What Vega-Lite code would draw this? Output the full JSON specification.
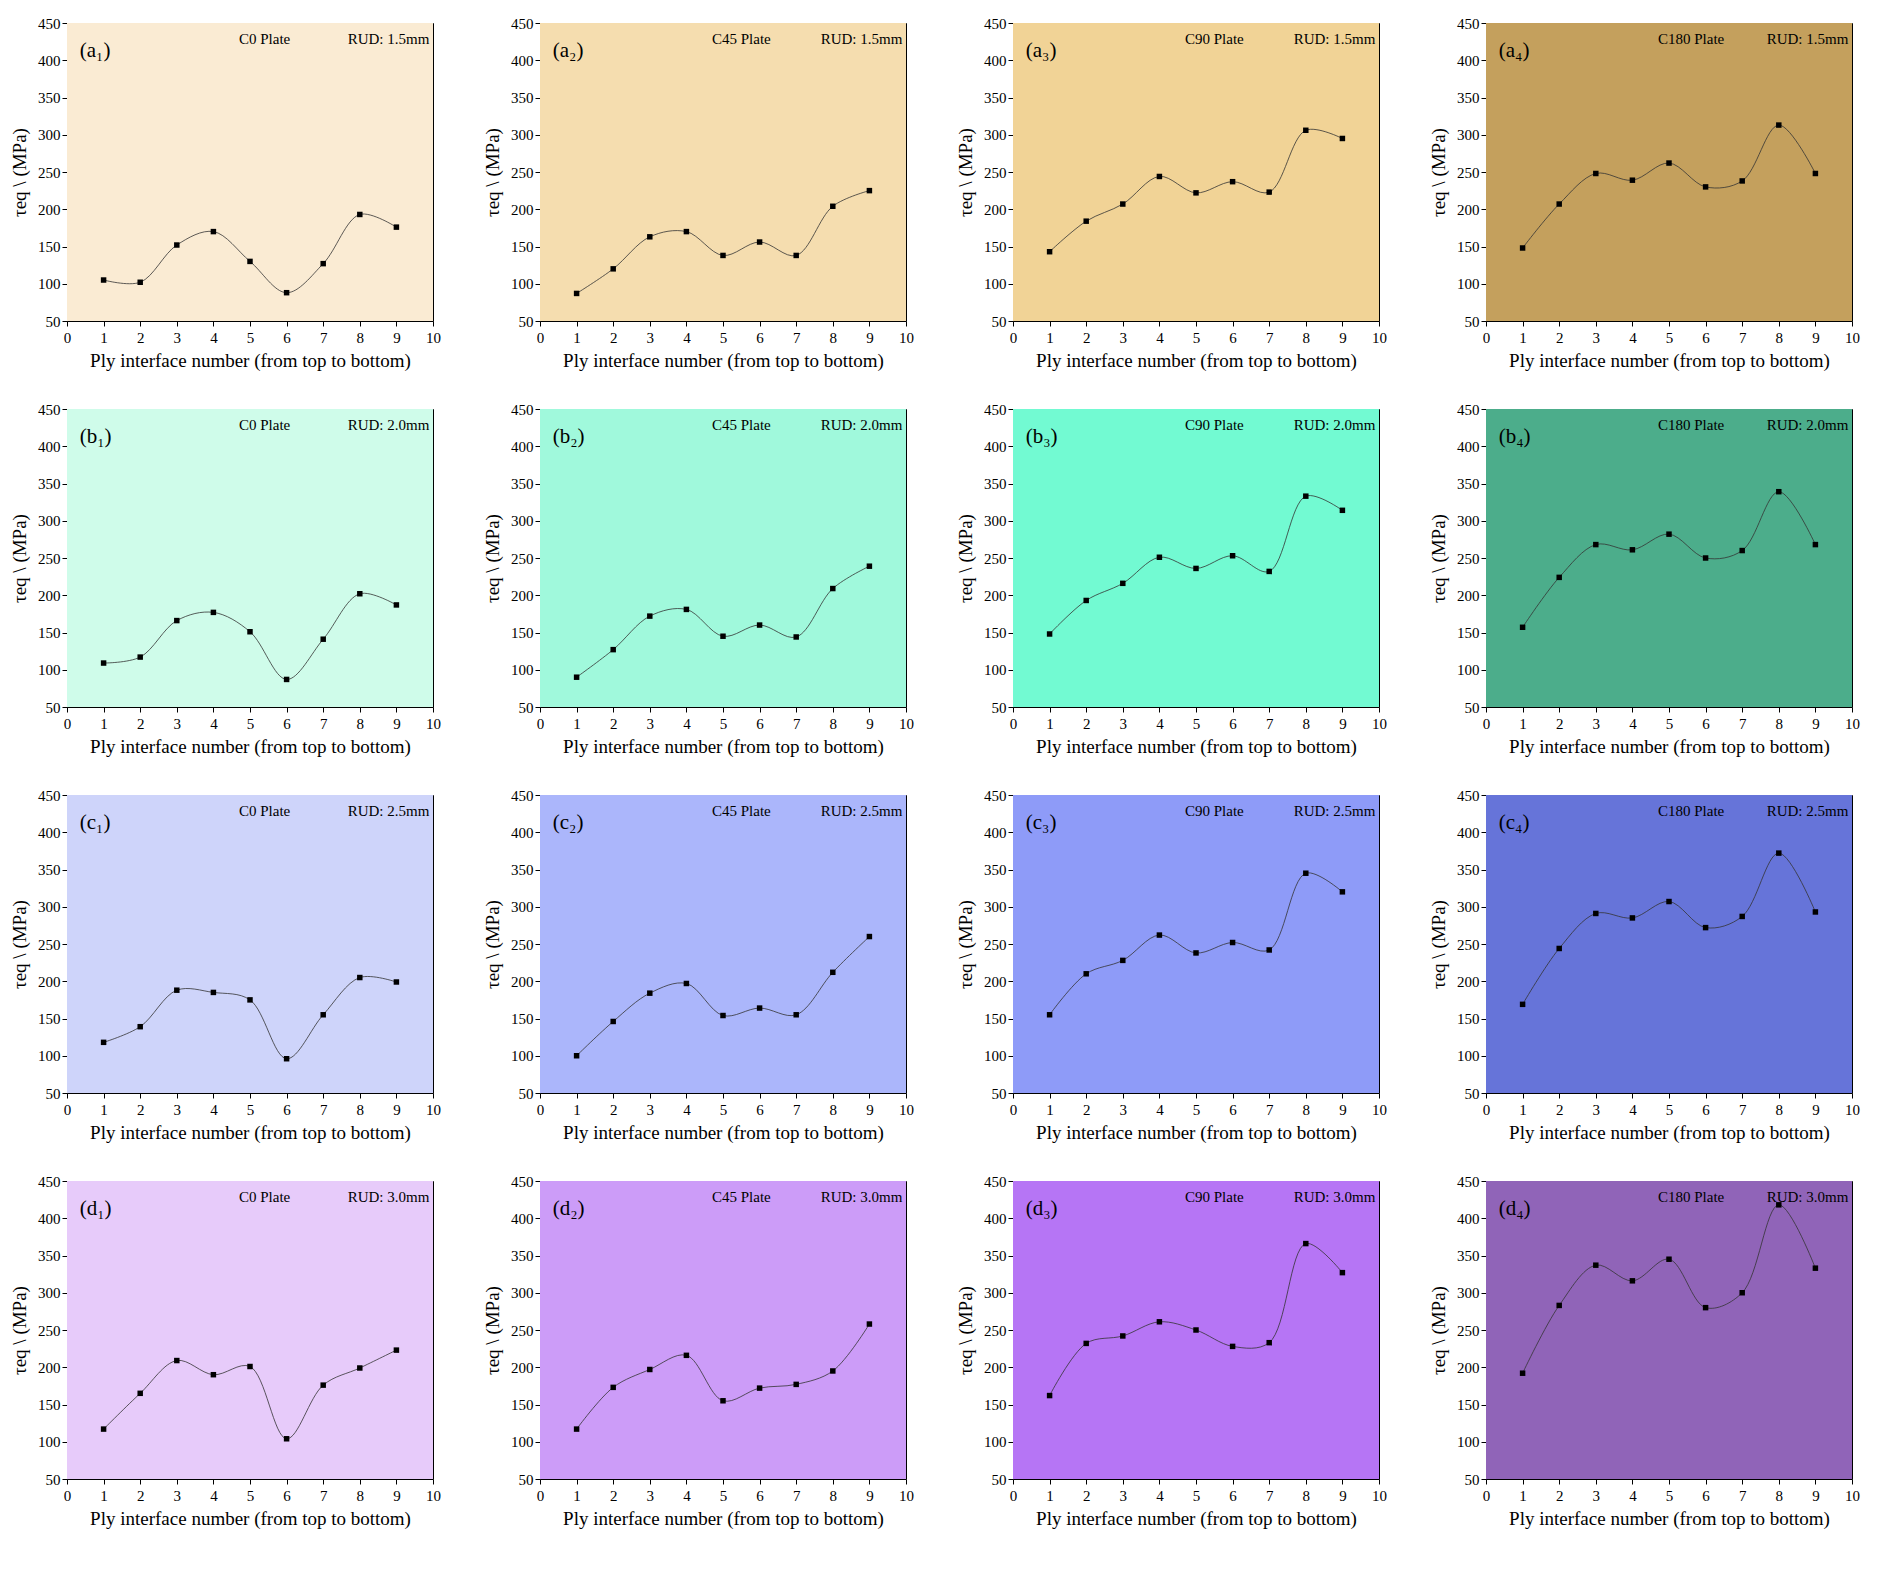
{
"$schema":"https://vega.github.io/schema/vega-lite/v6.json",
"background":"white",
"padding":{"left":10,"top":15,"right":5,"bottom":5},
"config":{"font":"Liberation Serif","view":{"stroke":"black","strokeWidth":1},"axis":{"grid":false,"domain":false,"tickColor":"black","labelColor":"black","labelFontSize":15,"titleFontSize":19,"titleFontWeight":"normal","titleColor":"black","labelFont":"Liberation Serif","titleFont":"Liberation Serif","labelOverlap":false,"labelFlush":false},"axisX":{"titlePadding":6,"labelPadding":4},"axisY":{"titlePadding":8}},
"data":{"values":[
{"r":"a","c":1,"x":1,"y":105},{"r":"a","c":1,"x":2,"y":102},{"r":"a","c":1,"x":3,"y":152},{"r":"a","c":1,"x":4,"y":170},{"r":"a","c":1,"x":5,"y":130},{"r":"a","c":1,"x":6,"y":88},{"r":"a","c":1,"x":7,"y":127},{"r":"a","c":1,"x":8,"y":193},{"r":"a","c":1,"x":9,"y":176},
{"r":"a","c":2,"x":1,"y":87},{"r":"a","c":2,"x":2,"y":120},{"r":"a","c":2,"x":3,"y":163},{"r":"a","c":2,"x":4,"y":170},{"r":"a","c":2,"x":5,"y":138},{"r":"a","c":2,"x":6,"y":156},{"r":"a","c":2,"x":7,"y":138},{"r":"a","c":2,"x":8,"y":204},{"r":"a","c":2,"x":9,"y":225},
{"r":"a","c":3,"x":1,"y":143},{"r":"a","c":3,"x":2,"y":184},{"r":"a","c":3,"x":3,"y":207},{"r":"a","c":3,"x":4,"y":244},{"r":"a","c":3,"x":5,"y":222},{"r":"a","c":3,"x":6,"y":237},{"r":"a","c":3,"x":7,"y":223},{"r":"a","c":3,"x":8,"y":306},{"r":"a","c":3,"x":9,"y":295},
{"r":"a","c":4,"x":1,"y":148},{"r":"a","c":4,"x":2,"y":207},{"r":"a","c":4,"x":3,"y":248},{"r":"a","c":4,"x":4,"y":239},{"r":"a","c":4,"x":5,"y":262},{"r":"a","c":4,"x":6,"y":230},{"r":"a","c":4,"x":7,"y":238},{"r":"a","c":4,"x":8,"y":313},{"r":"a","c":4,"x":9,"y":248},
{"r":"b","c":1,"x":1,"y":109},{"r":"b","c":1,"x":2,"y":117},{"r":"b","c":1,"x":3,"y":166},{"r":"b","c":1,"x":4,"y":177},{"r":"b","c":1,"x":5,"y":151},{"r":"b","c":1,"x":6,"y":87},{"r":"b","c":1,"x":7,"y":141},{"r":"b","c":1,"x":8,"y":202},{"r":"b","c":1,"x":9,"y":187},
{"r":"b","c":2,"x":1,"y":90},{"r":"b","c":2,"x":2,"y":127},{"r":"b","c":2,"x":3,"y":172},{"r":"b","c":2,"x":4,"y":181},{"r":"b","c":2,"x":5,"y":145},{"r":"b","c":2,"x":6,"y":160},{"r":"b","c":2,"x":7,"y":144},{"r":"b","c":2,"x":8,"y":209},{"r":"b","c":2,"x":9,"y":239},
{"r":"b","c":3,"x":1,"y":148},{"r":"b","c":3,"x":2,"y":193},{"r":"b","c":3,"x":3,"y":216},{"r":"b","c":3,"x":4,"y":251},{"r":"b","c":3,"x":5,"y":236},{"r":"b","c":3,"x":6,"y":253},{"r":"b","c":3,"x":7,"y":232},{"r":"b","c":3,"x":8,"y":333},{"r":"b","c":3,"x":9,"y":314},
{"r":"b","c":4,"x":1,"y":157},{"r":"b","c":4,"x":2,"y":224},{"r":"b","c":4,"x":3,"y":268},{"r":"b","c":4,"x":4,"y":261},{"r":"b","c":4,"x":5,"y":282},{"r":"b","c":4,"x":6,"y":250},{"r":"b","c":4,"x":7,"y":260},{"r":"b","c":4,"x":8,"y":339},{"r":"b","c":4,"x":9,"y":268},
{"r":"c","c":1,"x":1,"y":118},{"r":"c","c":1,"x":2,"y":139},{"r":"c","c":1,"x":3,"y":188},{"r":"c","c":1,"x":4,"y":185},{"r":"c","c":1,"x":5,"y":175},{"r":"c","c":1,"x":6,"y":96},{"r":"c","c":1,"x":7,"y":155},{"r":"c","c":1,"x":8,"y":205},{"r":"c","c":1,"x":9,"y":199},
{"r":"c","c":2,"x":1,"y":100},{"r":"c","c":2,"x":2,"y":146},{"r":"c","c":2,"x":3,"y":184},{"r":"c","c":2,"x":4,"y":197},{"r":"c","c":2,"x":5,"y":154},{"r":"c","c":2,"x":6,"y":164},{"r":"c","c":2,"x":7,"y":155},{"r":"c","c":2,"x":8,"y":212},{"r":"c","c":2,"x":9,"y":260},
{"r":"c","c":3,"x":1,"y":155},{"r":"c","c":3,"x":2,"y":210},{"r":"c","c":3,"x":3,"y":228},{"r":"c","c":3,"x":4,"y":262},{"r":"c","c":3,"x":5,"y":238},{"r":"c","c":3,"x":6,"y":252},{"r":"c","c":3,"x":7,"y":242},{"r":"c","c":3,"x":8,"y":345},{"r":"c","c":3,"x":9,"y":320},
{"r":"c","c":4,"x":1,"y":169},{"r":"c","c":4,"x":2,"y":244},{"r":"c","c":4,"x":3,"y":291},{"r":"c","c":4,"x":4,"y":285},{"r":"c","c":4,"x":5,"y":307},{"r":"c","c":4,"x":6,"y":272},{"r":"c","c":4,"x":7,"y":287},{"r":"c","c":4,"x":8,"y":372},{"r":"c","c":4,"x":9,"y":293},
{"r":"d","c":1,"x":1,"y":117},{"r":"d","c":1,"x":2,"y":165},{"r":"d","c":1,"x":3,"y":209},{"r":"d","c":1,"x":4,"y":190},{"r":"d","c":1,"x":5,"y":201},{"r":"d","c":1,"x":6,"y":104},{"r":"d","c":1,"x":7,"y":176},{"r":"d","c":1,"x":8,"y":199},{"r":"d","c":1,"x":9,"y":223},
{"r":"d","c":2,"x":1,"y":117},{"r":"d","c":2,"x":2,"y":173},{"r":"d","c":2,"x":3,"y":197},{"r":"d","c":2,"x":4,"y":216},{"r":"d","c":2,"x":5,"y":155},{"r":"d","c":2,"x":6,"y":172},{"r":"d","c":2,"x":7,"y":177},{"r":"d","c":2,"x":8,"y":195},{"r":"d","c":2,"x":9,"y":258},
{"r":"d","c":3,"x":1,"y":162},{"r":"d","c":3,"x":2,"y":232},{"r":"d","c":3,"x":3,"y":242},{"r":"d","c":3,"x":4,"y":261},{"r":"d","c":3,"x":5,"y":250},{"r":"d","c":3,"x":6,"y":228},{"r":"d","c":3,"x":7,"y":233},{"r":"d","c":3,"x":8,"y":366},{"r":"d","c":3,"x":9,"y":327},
{"r":"d","c":4,"x":1,"y":192},{"r":"d","c":4,"x":2,"y":283},{"r":"d","c":4,"x":3,"y":337},{"r":"d","c":4,"x":4,"y":316},{"r":"d","c":4,"x":5,"y":345},{"r":"d","c":4,"x":6,"y":280},{"r":"d","c":4,"x":7,"y":300},{"r":"d","c":4,"x":8,"y":418},{"r":"d","c":4,"x":9,"y":333},
{"r":"a","c":1,"p":"a1","lab":"(a₁)","plate":"C0 Plate","rud":"RUD: 1.5mm"},
{"r":"a","c":2,"p":"a2","lab":"(a₂)","plate":"C45 Plate","rud":"RUD: 1.5mm"},
{"r":"a","c":3,"p":"a3","lab":"(a₃)","plate":"C90 Plate","rud":"RUD: 1.5mm"},
{"r":"a","c":4,"p":"a4","lab":"(a₄)","plate":"C180 Plate","rud":"RUD: 1.5mm"},
{"r":"b","c":1,"p":"b1","lab":"(b₁)","plate":"C0 Plate","rud":"RUD: 2.0mm"},
{"r":"b","c":2,"p":"b2","lab":"(b₂)","plate":"C45 Plate","rud":"RUD: 2.0mm"},
{"r":"b","c":3,"p":"b3","lab":"(b₃)","plate":"C90 Plate","rud":"RUD: 2.0mm"},
{"r":"b","c":4,"p":"b4","lab":"(b₄)","plate":"C180 Plate","rud":"RUD: 2.0mm"},
{"r":"c","c":1,"p":"c1","lab":"(c₁)","plate":"C0 Plate","rud":"RUD: 2.5mm"},
{"r":"c","c":2,"p":"c2","lab":"(c₂)","plate":"C45 Plate","rud":"RUD: 2.5mm"},
{"r":"c","c":3,"p":"c3","lab":"(c₃)","plate":"C90 Plate","rud":"RUD: 2.5mm"},
{"r":"c","c":4,"p":"c4","lab":"(c₄)","plate":"C180 Plate","rud":"RUD: 2.5mm"},
{"r":"d","c":1,"p":"d1","lab":"(d₁)","plate":"C0 Plate","rud":"RUD: 3.0mm"},
{"r":"d","c":2,"p":"d2","lab":"(d₂)","plate":"C45 Plate","rud":"RUD: 3.0mm"},
{"r":"d","c":3,"p":"d3","lab":"(d₃)","plate":"C90 Plate","rud":"RUD: 3.0mm"},
{"r":"d","c":4,"p":"d4","lab":"(d₄)","plate":"C180 Plate","rud":"RUD: 3.0mm"}
]},
"facet":{"row":{"field":"r","title":null,"header":{"labels":false}},"column":{"field":"c","title":null,"header":{"labels":false}}},
"spacing":{"row":30,"column":42},
"resolve":{"axis":{"x":"independent","y":"independent"}},
"spec":{
"width":366,"height":298,
"layer":[
{"transform":[{"filter":"isValid(datum.p)"}],"mark":{"type":"rect"},
 "encoding":{"x":{"datum":0,"type":"quantitative","scale":{"domain":[0,10],"nice":false},"axis":{"values":[0,1,2,3,4,5,6,7,8,9,10],"title":"Ply interface number (from top to bottom)"}},"x2":{"datum":10},
  "y":{"datum":50,"type":"quantitative","scale":{"domain":[50,450],"nice":false},"axis":{"values":[50,100,150,200,250,300,350,400,450],"title":"τeq \\ (MPa)"}},"y2":{"datum":450},
  "color":{"field":"p","type":"nominal","legend":null,"scale":{"domain":["a1","a2","a3","a4","b1","b2","b3","b4","c1","c2","c3","c4","d1","d2","d3","d4"],"range":["#FAEBD3","#F5DDAF","#F1D396","#C4A05D","#CFFCEA","#A0F9DC","#72FAD2","#4CAD8B","#CED4FA","#ABB6FB","#8E9BF8","#6674D9","#E7CBFA","#CC9CF8","#B675F5","#9064B8"]}}}},
{"transform":[{"filter":"isValid(datum.x)"}],"mark":{"type":"line","interpolate":"catmull-rom","color":"#333","strokeWidth":0.8},
 "encoding":{"x":{"field":"x","type":"quantitative","axis":{"values":[0,1,2,3,4,5,6,7,8,9,10],"title":"Ply interface number (from top to bottom)"}},"y":{"field":"y","type":"quantitative","axis":{"values":[50,100,150,200,250,300,350,400,450],"title":"τeq \\ (MPa)"}}}},
{"transform":[{"filter":"isValid(datum.x)"}],"mark":{"type":"square","color":"black","opacity":1,"size":30,"filled":true},
 "encoding":{"x":{"field":"x","type":"quantitative","axis":{"values":[0,1,2,3,4,5,6,7,8,9,10],"title":"Ply interface number (from top to bottom)"}},"y":{"field":"y","type":"quantitative","axis":{"values":[50,100,150,200,250,300,350,400,450],"title":"τeq \\ (MPa)"}}}},
{"transform":[{"filter":"isValid(datum.p)"}],"mark":{"type":"text","fontSize":21,"align":"left","baseline":"middle","color":"black"},
 "encoding":{"x":{"datum":0.35,"type":"quantitative","axis":{"values":[0,1,2,3,4,5,6,7,8,9,10],"title":"Ply interface number (from top to bottom)"}},"y":{"datum":413,"type":"quantitative","axis":{"values":[50,100,150,200,250,300,350,400,450],"title":"τeq \\ (MPa)"}},"text":{"field":"lab"}}},
{"transform":[{"filter":"isValid(datum.p)"}],"mark":{"type":"text","fontSize":15,"align":"left","baseline":"middle","color":"black"},
 "encoding":{"x":{"datum":4.7,"type":"quantitative","axis":{"values":[0,1,2,3,4,5,6,7,8,9,10],"title":"Ply interface number (from top to bottom)"}},"y":{"datum":429,"type":"quantitative","axis":{"values":[50,100,150,200,250,300,350,400,450],"title":"τeq \\ (MPa)"}},"text":{"field":"plate"}}},
{"transform":[{"filter":"isValid(datum.p)"}],"mark":{"type":"text","fontSize":15,"align":"right","baseline":"middle","color":"black"},
 "encoding":{"x":{"datum":9.9,"type":"quantitative","axis":{"values":[0,1,2,3,4,5,6,7,8,9,10],"title":"Ply interface number (from top to bottom)"}},"y":{"datum":429,"type":"quantitative","axis":{"values":[50,100,150,200,250,300,350,400,450],"title":"τeq \\ (MPa)"}},"text":{"field":"rud"}}}
]}
}
